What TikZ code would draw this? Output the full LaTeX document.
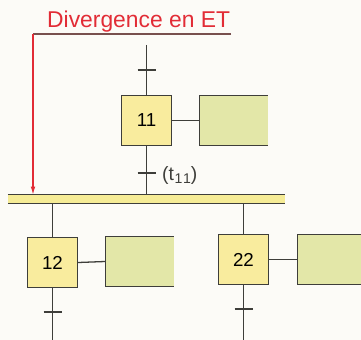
\documentclass[tikz,border=0pt]{standalone}
\usepackage{fontspec}
\setmainfont{Liberation Sans}
\usepackage{tikz}
\usetikzlibrary{arrows.meta, positioning, calc}
\definecolor{grafdark}{RGB}{62,62,58}
\definecolor{grafred}{RGB}{226,44,54}
\definecolor{grafbrown}{RGB}{120,80,78}
\definecolor{stepyellow}{RGB}{249,236,158}
\definecolor{actgreen}{RGB}{227,231,168}
\definecolor{barfill}{RGB}{246,236,150}
\definecolor{bgpaper}{RGB}{252,251,247}
\tikzset{
  etape/.style={rectangle, draw=grafdark, fill=stepyellow,
    minimum size=1.5cm, inner sep=0pt, line width=1.1pt,
    font=\fontsize{16}{16}\selectfont},
  action/.style={rectangle, fill=actgreen, inner sep=0pt,
    minimum width=2.04cm, minimum height=1.5cm},
  liaison/.style={line width=1.1pt, color=grafdark},
  barre/.style={rectangle, fill=barfill, inner sep=0pt,
    minimum width=8.31cm, minimum height=0.24cm},
  titre/.style={font=\fontsize{19.5}{19.5}\selectfont, text=grafred, inner sep=0pt},
  recept/.style={font=\fontsize{16.5}{16.5}\selectfont, text=grafdark, inner sep=0pt}
}

\begin{document}
\begin{tikzpicture}[x=0.03cm, y=-0.03cm]
  % paper
  \fill[bgpaper] (0,0) rectangle (361,340);
  \useasboundingbox (0,0) rectangle (361,340);

  % Steps
  \node[etape] (s11) at (146.5,120.5) {11};
  \node[etape] (s12) at (52.5,262.5) {12};
  \node[etape] (s22) at (243.5,259.5) {22};

  % Actions (right side left open)
  \node[action] (a11) at (233.5,120.5) {};
  \node[action] (a12) at (139.5,261.5) {};
  \node[action] (a22) at (331.5,259.5) {};
  \foreach \a in {a11,a12,a22}
    \draw[liaison] (\a.north east) -- (\a.north west) -- (\a.south west) -- (\a.south east);
  \draw[liaison] (s11.east) -- (a11.west);
  \draw[liaison] (s12.east) -- (a12.west);
  \draw[liaison] (s22.east) -- (a22.west);

  % AND divergence bar
  \node[barre] (bar) at (146.5,199) {};
  \draw[liaison] (bar.north west) -- (bar.north east);
  \draw[liaison] (bar.south west) -- (bar.south east);

  % Links and transitions
  \coordinate (in11) at (146.5,45);
  \coordinate (tr0) at (146.5,70);
  \coordinate (tr11) at (146.5,173);
  \coordinate (out12) at (52.5,340);
  \coordinate (tr12) at (52.5,312);
  \coordinate (out22) at (243.5,340);
  \coordinate (tr22) at (243.5,309);
  \draw[liaison] (in11) -- (s11.north);
  \draw[liaison] (s11.south) -- (s11.south |- bar.north);
  \draw[liaison] (bar.south -| s12.north) -- (s12.north);
  \draw[liaison] (bar.south -| s22.north) -- (s22.north);
  \draw[liaison] (s12.south) -- (out12);
  \draw[liaison] (s22.south) -- (out22);
  \foreach \t in {tr0,tr11,tr12,tr22}
    \draw[liaison] ($(\t)+(-9,0)$) -- ($(\t)+(9,0)$);
  \node[recept, anchor=base west] (r11) at (162,180)
    {(t\kern0.5pt\raisebox{-3pt}{\fontsize{12}{12}\selectfont 1\kern0.5pt1})};

  % Title and pointer
  \node[titre, anchor=base west] (ttl) at (47,28) {Divergence en ET};
  \coordinate (hookR) at (231,34);
  \coordinate (hookL) at (33,34);
  \draw[line width=1pt, grafbrown] (hookR) -- (hookL);
  \draw[line width=1pt, grafred, -{Latex[length=7pt, width=4pt]}]
    (hookL) -- (hookL |- bar.north);
\end{tikzpicture}
\end{document}
